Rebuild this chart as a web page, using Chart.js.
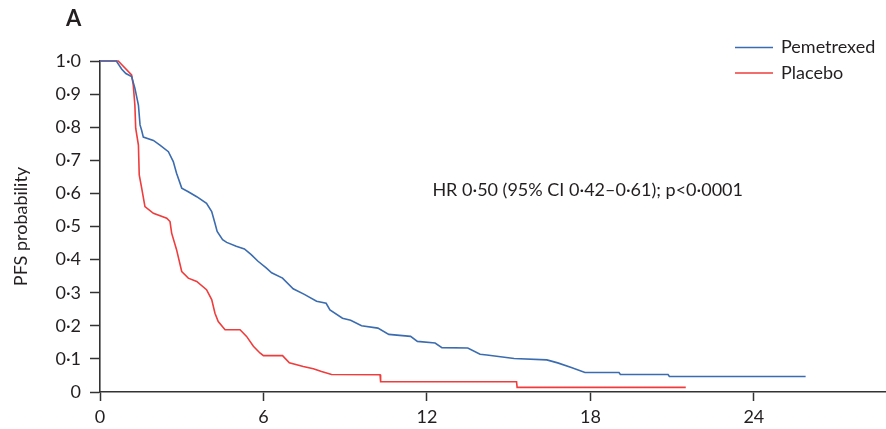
<!DOCTYPE html>
<html>
<head>
<meta charset="utf-8">
<script src="https://cdn.jsdelivr.net/npm/chart.js@4/dist/chart.umd.min.js"></script>
<style>
  html, body { margin: 0; padding: 0; background: #ffffff; }
  #wrap { width: 886px; height: 429px; position: relative; }
</style>
</head>
<body>
<div id="wrap"><canvas id="km"></canvas></div>
<script>
// Kaplan-Meier progression-free survival, months since randomisation
const pemetrexedMonths = [0, 0.6, 0.8, 0.95, 1.16, 1.28, 1.41, 1.47, 1.53, 1.59, 1.96, 2.2, 2.51, 2.69, 2.81, 3.0, 3.24, 3.55, 3.91, 4.1, 4.22, 4.3, 4.5, 4.65, 5.0, 5.3, 5.55, 5.8, 6.1, 6.3, 6.7, 7.09, 7.5, 7.95, 8.3, 8.44, 8.9, 9.2, 9.6, 10.2, 10.6, 11.4, 11.65, 12.3, 12.55, 13.5, 13.95, 14.2, 15.2, 16.4, 16.8, 17.3, 17.8, 19.05, 19.1, 20.85, 20.9, 25.9];
const pemetrexedPFS    = [1.0, 1.0, 0.975, 0.962, 0.953, 0.918, 0.867, 0.807, 0.79, 0.77, 0.76, 0.746, 0.726, 0.696, 0.661, 0.616, 0.605, 0.59, 0.57, 0.545, 0.51, 0.485, 0.46, 0.452, 0.44, 0.432, 0.415, 0.395, 0.375, 0.36, 0.344, 0.312, 0.295, 0.274, 0.268, 0.248, 0.223, 0.217, 0.2, 0.193, 0.174, 0.168, 0.153, 0.148, 0.134, 0.133, 0.114, 0.112, 0.101, 0.097, 0.088, 0.074, 0.059, 0.059, 0.053, 0.053, 0.047, 0.047];

const placeboMonths = [0, 0.67, 1.16, 1.22, 1.28, 1.31, 1.41, 1.44, 1.53, 1.65, 1.96, 2.45, 2.57, 2.63, 2.81, 3.0, 3.24, 3.55, 3.91, 4.1, 4.22, 4.34, 4.59, 5.14, 5.38, 5.63, 5.87, 6.0, 6.7, 6.95, 7.46, 7.83, 8.13, 8.5, 10.28, 10.3, 15.29, 15.31, 21.5];
const placeboPFS    = [1.0, 1.0, 0.958, 0.928, 0.867, 0.797, 0.746, 0.656, 0.616, 0.56, 0.54, 0.525, 0.515, 0.48, 0.43, 0.364, 0.344, 0.334, 0.309, 0.279, 0.238, 0.213, 0.188, 0.188, 0.168, 0.138, 0.118, 0.11, 0.11, 0.088, 0.077, 0.07, 0.062, 0.053, 0.052, 0.031, 0.031, 0.014, 0.014];

const seriesNames  = ['Pemetrexed', 'Placebo'];
const seriesColors = ['#3b6cb0', '#f03c3c'];

const xTickValues = [0, 6, 12, 18, 24];
const yTickValues = [0, 0.1, 0.2, 0.3, 0.4, 0.5, 0.6, 0.7, 0.8, 0.9, 1.0];

const panelLetter = 'A';
const yAxisTitle = 'PFS probability';
const hazardText = 'HR 0·50 (95% CI 0·42–0·61); p<0·0001';

const FONT = 'Lato, "Open Sans", "DejaVu Sans", sans-serif';
const INK = '#231f20';

function toPoints(xs, ys) { return xs.map((x, i) => ({ x: x, y: ys[i] })); }
function fmt(v) {
  if (v === 0) return '0';
  return v.toFixed(1).replace('.', '·');
}

// Panel letter, legend and hazard-ratio annotation
const overlay = {
  id: 'overlay',
  afterDraw(chart) {
    const ctx = chart.ctx;
    const xs = chart.scales.x, ys = chart.scales.y;
    ctx.save();
    ctx.fillStyle = INK;
    ctx.textBaseline = 'middle';
    ctx.font = 'bold 22px ' + FONT;
    ctx.textAlign = 'left';
    ctx.fillText(panelLetter, 66, 19);

    ctx.font = '18px ' + FONT;
    chart.data.datasets.forEach((ds, i) => {
      const y = 47.5 + i * 25.5;
      ctx.strokeStyle = ds.borderColor;
      ctx.lineWidth = 1.5;
      ctx.beginPath();
      ctx.moveTo(735, y);
      ctx.lineTo(773, y);
      ctx.stroke();
      ctx.fillStyle = INK;
      ctx.fillText(ds.label, 781, y);
    });

    ctx.fillText(hazardText, xs.getPixelForValue(12.2), ys.getPixelForValue(0.61));
    ctx.restore();
  }
};

new Chart(document.getElementById('km'), {
  type: 'line',
  data: {
    datasets: [
      { label: seriesNames[0], data: toPoints(pemetrexedMonths, pemetrexedPFS),
        borderColor: seriesColors[0], borderWidth: 1.6, pointRadius: 0, tension: 0, fill: false, clip: false },
      { label: seriesNames[1], data: toPoints(placeboMonths, placeboPFS),
        borderColor: seriesColors[1], borderWidth: 1.6, pointRadius: 0, tension: 0, fill: false, clip: false }
    ]
  },
  options: {
    responsive: true,
    maintainAspectRatio: false,
    animation: false,
    layout: { padding: { left: 10, right: 0, top: 61, bottom: 0 } },
    plugins: { legend: { display: false }, tooltip: { enabled: false }, title: { display: false } },
    scales: {
      x: {
        type: 'linear', min: 0, max: 28.85,
        afterBuildTicks(scale) { scale.ticks = xTickValues.map(v => ({ value: v })); },
        afterFit(scale) { scale.height = 37; },
        grid: { drawOnChartArea: false, drawTicks: true, tickLength: 9, tickWidth: 1.5, tickColor: '#333333' },
        border: { display: true, color: '#333333', width: 1.6 },
        ticks: { padding: 5, color: INK, font: { family: FONT, size: 18 }, maxRotation: 0,
          callback: v => String(v) }
      },
      y: {
        type: 'linear', min: 0, max: 1,
        afterBuildTicks(scale) { scale.ticks = yTickValues.map(v => ({ value: v })); },
        afterFit(scale) { scale.width = 90; },
        grid: { drawOnChartArea: false, drawTicks: true, tickLength: 10, tickWidth: 1.5, tickColor: '#333333' },
        border: { display: true, color: '#333333', width: 1.6 },
        title: { display: true, text: yAxisTitle, color: INK, font: { family: FONT, size: 18 }, padding: { top: 0, bottom: 0 } },
        ticks: { padding: 9, color: INK, font: { family: FONT, size: 18 }, callback: v => fmt(v) }
      }
    }
  },
  plugins: [overlay]
});
</script>
</body>
</html>
